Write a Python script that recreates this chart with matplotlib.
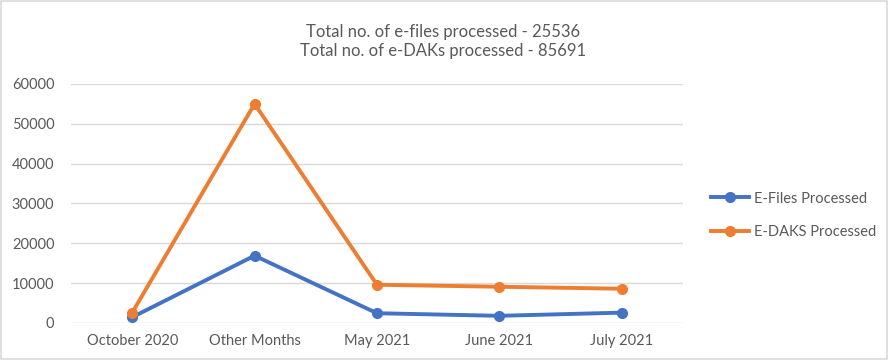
import matplotlib
matplotlib.use('Agg')
import matplotlib.pyplot as plt
from matplotlib.patches import Rectangle

months = ['October 2020', 'Other Months', 'May 2021', 'June 2021', 'July 2021']
efiles = [1450, 16900, 2450, 1800, 2600]
edaks = [2600, 55000, 9600, 9100, 8600]
yticks = [0, 10000, 20000, 30000, 40000, 50000, 60000]

plt.rcParams['font.family'] = ['Lato', 'DejaVu Sans']
txt = '#595959'

fig = plt.figure(figsize=(8.88, 3.6), dpi=100)
ax = fig.add_axes([0.08, 0.1028, 0.689, 0.664])

x = range(len(months))
ax.plot(x, efiles, color='#4472C4', lw=2.8, marker='o', ms=7, label='E-Files Processed')
ax.plot(x, edaks, color='#ED7D31', lw=2.8, marker='o', ms=7, label='E-DAKS Processed')

ax.set_xlim(-0.5, len(months) - 0.5)
ax.set_ylim(0, 60000)
ax.set_xticks(list(x))
ax.set_xticklabels(months)
ax.set_yticks(yticks)
ax.set_yticklabels([str(v) for v in yticks])
ax.tick_params(length=0, labelsize=10.5, colors=txt, pad=8)
ax.tick_params(axis='y', pad=12)
ax.grid(axis='y', color='#d9d9d9', lw=1)
ax.set_axisbelow(True)
for s in ax.spines.values():
    s.set_visible(False)

fig.text(0.499, 0.912, 'Total no. of e-files processed - 25536', ha='center', va='center',
         fontsize=12, color=txt)
fig.text(0.499, 0.857, 'Total no. of e-DAKs processed - 85691', ha='center', va='center',
         fontsize=12, color=txt)

ax.legend(loc='center left', bbox_to_anchor=(1.025, 0.45), frameon=False, fontsize=10.5,
          labelcolor=txt, handlelength=2.6, handletextpad=0.3, labelspacing=1.35)

fig.patches.append(Rectangle((0.001, 0.002), 0.998, 0.996, transform=fig.transFigure,
                             fill=False, edgecolor='#d9d9d9', lw=1.2))

fig.savefig('out.png', dpi=100)
